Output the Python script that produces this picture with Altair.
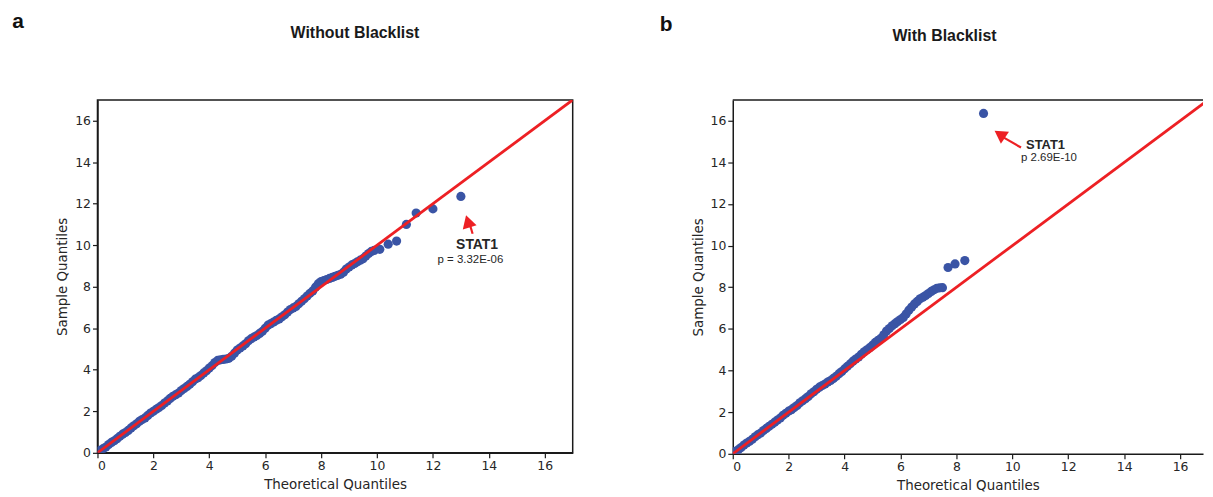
import altair as alt
import pandas as pd

# ---------------- data ----------------
left_theoretical = [0.1, 0.2, 0.3, 0.4, 0.5, 0.6, 0.7, 0.8, 0.9, 1.0,
                    1.1, 1.2, 1.3, 1.4, 1.5, 1.6, 1.7, 1.8, 1.9, 2.0,
                    2.1, 2.2, 2.3, 2.4, 2.5, 2.6, 2.7, 2.8, 2.9, 3.0,
                    3.1, 3.2, 3.3, 3.4, 3.5, 3.6, 3.7, 3.8, 3.9, 4.0,
                    4.1, 4.2, 4.3, 4.4, 4.5, 4.6, 4.7, 4.8, 4.9, 5.0,
                    5.1, 5.2, 5.3, 5.4, 5.5, 5.6, 5.7, 5.8, 5.9, 6.0,
                    6.1, 6.2, 6.3, 6.4, 6.5, 6.6, 6.7, 6.8, 6.9, 7.0,
                    7.1, 7.2, 7.3, 7.4, 7.5, 7.6, 7.7, 7.8, 7.9, 8.0,
                    8.1, 8.2, 8.3, 8.4, 8.5, 8.6, 8.7, 8.8, 8.9, 9.0,
                    9.1, 9.2, 9.3, 9.4, 9.5, 9.6, 9.7, 9.8, 9.9,
                    10.1, 10.4, 10.7, 11.05, 11.4, 12.0, 13.0]
left_sample = [0.12, 0.2, 0.28, 0.4, 0.5, 0.58, 0.68, 0.8, 0.9, 0.98,
               1.08, 1.2, 1.3, 1.4, 1.52, 1.6, 1.68, 1.8, 1.92, 2.0,
               2.1, 2.18, 2.28, 2.4, 2.5, 2.62, 2.72, 2.8, 2.88, 3.0,
               3.1, 3.2, 3.3, 3.42, 3.55, 3.62, 3.72, 3.85, 3.95, 4.08,
               4.2, 4.35, 4.45, 4.48, 4.5, 4.52, 4.55, 4.65, 4.8, 4.95,
               5.05, 5.15, 5.25, 5.4, 5.5, 5.58, 5.65, 5.75, 5.85, 6.0,
               6.15, 6.22, 6.3, 6.38, 6.45, 6.55, 6.65, 6.78, 6.9, 6.98,
               7.05, 7.18, 7.3, 7.42, 7.55, 7.68, 7.8, 7.98, 8.15, 8.25,
               8.3, 8.35, 8.4, 8.45, 8.5, 8.55, 8.6, 8.7, 8.85, 8.95,
               9.05, 9.12, 9.2, 9.28, 9.35, 9.48, 9.6, 9.7, 9.75,
               9.8, 10.05, 10.2, 11.0, 11.55, 11.75, 12.35]

right_theoretical = [0.1, 0.2, 0.3, 0.4, 0.5, 0.6, 0.7, 0.8, 0.9, 1.0,
                     1.1, 1.2, 1.3, 1.4, 1.5, 1.6, 1.7, 1.8, 1.9, 2.0,
                     2.1, 2.2, 2.3, 2.4, 2.5, 2.6, 2.7, 2.8, 2.9, 3.0,
                     3.1, 3.2, 3.3, 3.4, 3.5, 3.6, 3.7, 3.8, 3.9, 4.0,
                     4.1, 4.2, 4.3, 4.4, 4.5, 4.6, 4.7, 4.8, 4.9, 5.0,
                     5.1, 5.2, 5.3, 5.4, 5.5, 5.6, 5.7, 5.8, 5.9, 6.0,
                     6.1, 6.2, 6.3, 6.4, 6.5, 6.6, 6.7, 6.8, 6.9, 7.0,
                     7.1, 7.2, 7.3, 7.4, 7.5,
                     7.7, 7.95, 8.3, 8.97]
right_sample = [0.12, 0.2, 0.3, 0.42, 0.52, 0.6, 0.7, 0.82, 0.92, 1.0,
                1.12, 1.22, 1.32, 1.42, 1.52, 1.62, 1.72, 1.85, 1.95, 2.05,
                2.12, 2.22, 2.32, 2.45, 2.55, 2.65, 2.75, 2.88, 2.98, 3.1,
                3.2, 3.28, 3.35, 3.45, 3.52, 3.62, 3.72, 3.85, 3.95, 4.08,
                4.2, 4.32, 4.45, 4.55, 4.65, 4.78, 4.9, 5.0, 5.1, 5.22,
                5.35, 5.45, 5.55, 5.72, 5.9, 6.02, 6.15, 6.25, 6.35, 6.45,
                6.55, 6.72, 6.9, 7.05, 7.2, 7.32, 7.45, 7.52, 7.6, 7.7,
                7.8, 7.88, 7.95, 7.97, 7.98,
                8.95, 9.12, 9.28, 16.35]

axis_ticks = [0, 2, 4, 6, 8, 10, 12, 14, 16]
left_domain = [0, 17]
right_x_domain = [0, 16.82]   # right panel runs off the page edge in the reference
right_y_domain = [0, 17]
ref_line_x = [0, 17]
ref_line_y = [0, 17]
panel_titles = ["Without Blacklist", "With Blacklist"]
panel_letters = ["a", "b"]
gene_label = "STAT1"
p_labels = ["p = 3.32E-06", "p 2.69E-10"]

# annotation anchor positions (data units)
left_arrow_shaft = {"x": [13.33, 13.42], "y": [10.95, 10.55]}
left_arrow_head = {"x": [13.25], "y": [11.15], "angle": 343}
left_gene_pos = (13.58, 10.0)
left_p_pos = (13.34, 9.29)

right_arrow_shaft = {"x": [9.68, 10.31], "y": [15.2, 14.71]}
right_arrow_head = {"x": [9.55], "y": [15.35], "angle": 304}
right_gene_pos = (10.49, 14.85)
right_p_pos = (10.31, 14.23)

BLUE = "#3A54A5"
RED = "#ED2024"
TXT = "#262626"
FRAME = "#1a1a1a"


def panel(theo, samp, xdom, ydom, title, title_xy, letter, letter_xy, shaft, head,
          gene_pos, gene_size, p_text, p_pos, gene_align, width, height, open_right):
    xscale = alt.Scale(domain=xdom, nice=False, zero=False)
    yscale = alt.Scale(domain=ydom, nice=False, zero=False)
    xaxis = alt.Axis(values=axis_ticks, title="Theoretical Quantiles", grid=False)
    yaxis = alt.Axis(values=axis_ticks, title="Sample Quantiles", grid=False)

    pts_df = pd.DataFrame({"t": theo, "s": samp})
    points = alt.Chart(pts_df).mark_circle(size=85, color=BLUE, opacity=1, clip=True).encode(
        x=alt.X("t:Q", scale=xscale, axis=xaxis),
        y=alt.Y("s:Q", scale=yscale, axis=yaxis),
    )

    line_df = pd.DataFrame({"t": ref_line_x, "s": ref_line_y})
    line = alt.Chart(line_df).mark_line(color=RED, strokeWidth=2.8, clip=True).encode(
        x="t:Q", y="s:Q"
    )

    shaft_df = pd.DataFrame({"t": shaft["x"], "s": shaft["y"]})
    arrow_shaft = alt.Chart(shaft_df).mark_line(color=RED, strokeWidth=2.2).encode(
        x="t:Q", y="s:Q"
    )
    head_df = pd.DataFrame({"t": head["x"], "s": head["y"]})
    arrow_head = alt.Chart(head_df).mark_point(
        shape="triangle-up", filled=True, color=RED, opacity=1, size=210,
        angle=head["angle"], strokeWidth=0,
    ).encode(x="t:Q", y="s:Q")

    gene_df = pd.DataFrame({"t": [gene_pos[0]], "s": [gene_pos[1]], "lab": [gene_label]})
    gene_txt = alt.Chart(gene_df).mark_text(
        font="Liberation Sans", fontSize=gene_size, fontWeight="bold", color=TXT,
        align=gene_align, baseline="middle",
    ).encode(x="t:Q", y="s:Q", text="lab:N")

    p_df = pd.DataFrame({"t": [p_pos[0]], "s": [p_pos[1]], "lab": [p_text]})
    p_txt = alt.Chart(p_df).mark_text(
        font="Liberation Sans", fontSize=11.5, color=TXT,
        align=gene_align, baseline="middle",
    ).encode(x="t:Q", y="s:Q", text="lab:N")

    let_df = pd.DataFrame({"lab": [letter]})
    let_txt = alt.Chart(let_df).mark_text(
        font="Liberation Sans", fontSize=21, fontWeight="bold", color="#111111",
        align="center", baseline="middle",
    ).encode(text="lab:N", x=alt.value(letter_xy[0]), y=alt.value(letter_xy[1]))

    tit_df = pd.DataFrame({"lab": [title]})
    tit_txt = alt.Chart(tit_df).mark_text(
        font="Liberation Sans", fontSize=16, fontWeight="bold", color="#1a1a1a",
        align="center", baseline="middle",
    ).encode(text="lab:N", x=alt.value(title_xy[0]), y=alt.value(title_xy[1]))

    layers = [points, line, arrow_shaft, arrow_head, gene_txt, p_txt, let_txt, tit_txt]
    props = dict(width=width, height=height)
    if open_right:
        # frame continues past the page edge: draw only the top edge
        top_df = pd.DataFrame({"k": [0]})
        top_edge = alt.Chart(top_df).mark_rule(color=FRAME, strokeWidth=1.5).encode(
            x=alt.value(0), x2=alt.value(width), y=alt.value(0)
        )
        layers.append(top_edge)
        props["view"] = alt.ViewBackground(stroke="transparent")
    return alt.layer(*layers).properties(**props)


left = panel(left_theoretical, left_sample, left_domain, left_domain,
             panel_titles[0], (259, -67), panel_letters[0], (-80, -78),
             left_arrow_shaft, left_arrow_head, left_gene_pos, 14, p_labels[0], left_p_pos,
             "center", 478, 355, False)
right = panel(right_theoretical, right_sample, right_x_domain, right_y_domain,
              panel_titles[1], (213, -64), panel_letters[1], (-67, -75),
              right_arrow_shaft, right_arrow_head, right_gene_pos, 13, p_labels[1], right_p_pos,
              "left", 473, 356, True)

chart = alt.hconcat(left, right, spacing=85).properties(
    padding={"left": 3, "top": 1, "right": 0, "bottom": 0}
).configure_view(
    stroke=FRAME, strokeWidth=1.5
).configure_axis(
    domainColor=FRAME, domainWidth=1.5, tickColor=FRAME, tickWidth=1.2, tickSize=5,
    labelFont="DejaVu Sans", labelFontSize=12.5, labelColor=TXT, labelPadding=2,
    titleFont="DejaVu Sans", titleFontSize=13.5, titleFontWeight="normal", titleColor=TXT,
    titlePadding=5,
)

chart.save("out.html", embed_options={"renderer": "svg", "actions": False})
